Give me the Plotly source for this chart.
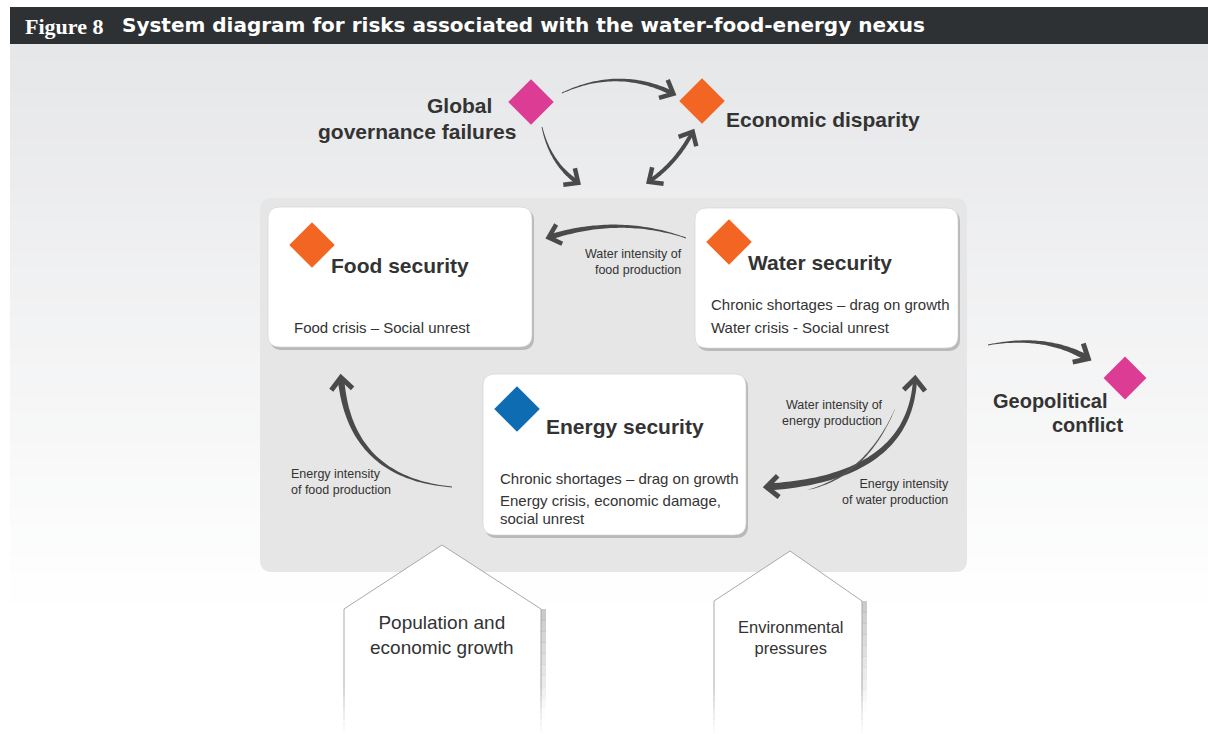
import math
import plotly.graph_objects as go

# ---------------- data ----------------
risk_names = ["Global governance failures", "Economic disparity", "Food security",
              "Water security", "Energy security", "Geopolitical conflict"]
risk_colors = ["#dd3c94", "#f26522", "#f26522", "#f26522", "#0e6cb2", "#dd3c94"]
diamond_x = [531, 702, 312, 729, 517, 1125]
diamond_y = [102, 101, 245, 242, 409, 378]
diamond_size = [35, 35, 35, 35, 35, 33]

box_names = ["Food security", "Water security", "Energy security"]
box_details = [
    ["Food crisis – Social unrest"],
    ["Chronic shortages – drag on growth", "Water crisis - Social unrest"],
    ["Chronic shortages – drag on growth", "Energy crisis, economic damage,", "social unrest"],
]
link_labels = ["Water intensity of<br>food production", "Water intensity of<br>energy production",
               "Energy intensity<br>of food production", "Energy intensity<br>of water production"]
driver_labels = ["Population and<br>economic growth", "Environmental<br>pressures"]
title_tag = "Figure 8"
title_text = "System diagram for risks associated with the water-food-energy nexus"

# ---------------- helpers ----------------
W, H = 1208, 734
TXT = "#333333"
ARROW = "#4a4a4a"
FONT = "Liberation Sans, Arial, sans-serif"
shapes = []
annotations = []


def rr_path(x0, y0, x1, y1, r):
    return (f"M{x0+r},{y0} L{x1-r},{y0} Q{x1},{y0} {x1},{y0+r} L{x1},{y1-r} "
            f"Q{x1},{y1} {x1-r},{y1} L{x0+r},{y1} Q{x0},{y1} {x0},{y1-r} "
            f"L{x0},{y0+r} Q{x0},{y0} {x0+r},{y0} Z")


def add_path(path, fill=None, line=None, lw=0, layer="below", opacity=1):
    d = dict(type="path", path=path, xref="x", yref="y", layer=layer, opacity=opacity,
             line=dict(width=lw, color=line if line else "rgba(0,0,0,0)"))
    if fill:
        d["fillcolor"] = fill
    shapes.append(d)


def add_rect(x0, y0, x1, y1, fill, layer="below"):
    shapes.append(dict(type="rect", x0=x0, y0=y0, x1=x1, y1=y1, xref="x", yref="y",
                       fillcolor=fill, line=dict(width=0), layer=layer))


def qpt(p0, c, p1, t):
    return ((1-t)**2*p0[0] + 2*(1-t)*t*c[0] + t*t*p1[0],
            (1-t)**2*p0[1] + 2*(1-t)*t*c[1] + t*t*p1[1])


def qder(p0, c, p1, t):
    dx = 2*(1-t)*(c[0]-p0[0]) + 2*t*(p1[0]-c[0])
    dy = 2*(1-t)*(c[1]-p0[1]) + 2*t*(p1[1]-c[1])
    L = math.hypot(dx, dy)
    return dx/L, dy/L


def body(p0, c, p1, wfun, color=ARROW, n=48):
    left, right = [], []
    for i in range(n+1):
        t = i/n
        x, y = qpt(p0, c, p1, t)
        dx, dy = qder(p0, c, p1, t)
        nx, ny = -dy, dx
        w = wfun(t)/2
        left.append((x+nx*w, y+ny*w))
        right.append((x-nx*w, y-ny*w))
    pts = left + right[::-1]
    path = "M" + " L".join(f"{x:.1f},{y:.1f}" for x, y in pts) + " Z"
    add_path(path, fill=color, layer="above")


def head(tip, d, L=15, ang=42, lw=4.5):
    dx, dy = d
    a = math.radians(ang)
    pts = []
    for s in (1, -1):
        ca, sa = math.cos(s*a), math.sin(s*a)
        rx, ry = dx*ca - dy*sa, dx*sa + dy*ca
        pts.append((tip[0]-rx*L, tip[1]-ry*L))
    path = f"M{pts[0][0]:.1f},{pts[0][1]:.1f} L{tip[0]:.1f},{tip[1]:.1f} L{pts[1][0]:.1f},{pts[1][1]:.1f}"
    add_path(path, line=ARROW, lw=lw, layer="above")


def arrow(p0, c, p1, w0, w1, both=False, L=15, lw=4.5):
    body(p0, c, p1, lambda t: w0 + (w1-w0)*t)
    d1 = qder(p0, c, p1, 1)
    head((p1[0]+d1[0]*1.5, p1[1]+d1[1]*1.5), d1, L=L, lw=lw)
    if both:
        d0 = qder(p0, c, p1, 0)
        d0 = (-d0[0], -d0[1])
        head((p0[0]+d0[0]*1.5, p0[1]+d0[1]*1.5), d0, L=L, lw=lw)


def text(x, y, s, size, bold=False, xanchor="left", color=TXT, family=FONT, align=None):
    if bold:
        s = f"<b>{s}</b>"
    annotations.append(dict(x=x, y=y, xref="x", yref="y", text=s, showarrow=False,
                            xanchor=xanchor, yanchor="middle", align=align or xanchor,
                            font=dict(size=size, color=color, family=family)))


# ---------------- background ----------------
add_rect(10, 44, W, H, "#ffffff")
top, bot = (230, 231, 233), (255, 255, 255)
y0, y1, steps = 44, 620, 36
for i in range(steps):
    t = i/(steps-1)
    col = tuple(round(top[k] + (bot[k]-top[k])*t) for k in range(3))
    ya = y0 + (y1-y0)*i/steps
    yb = y0 + (y1-y0)*(i+1)/steps + 0.6
    add_rect(10, ya, W, yb, f"rgb{col}")

# title bar
add_rect(10, 7, W, 44, "#2e3134")
text(23, 26, title_tag, 22, bold=True, color="#ffffff", family="Liberation Serif, DejaVu Serif, serif")
text(120, 25, title_text, 20, bold=True, color="#ffffff", family="DejaVu Sans, sans-serif")

# inner panel
add_path(rr_path(260, 198, 967, 572, 12), fill="#e6e6e6")

# boxes with shadows
boxes = [(268, 207, 532, 347), (695, 208, 958, 348), (483, 374, 746, 535)]
for (a, b, c, d) in boxes:
    add_path(rr_path(a+2, b+2, c+2, d+3, 12), fill="#b9b9b9")
    add_path(rr_path(a, b, c, d, 12), fill="#ffffff", line="#d0d0d0", lw=0.6)

# driver "house" shapes
houses = [(344, 541, 442, 545, 609), (714, 862, 790, 551, 601)]
for (xl, xr, xp, yp, ys) in houses:
    for k in range(10):
        ya = ys + k*11
        add_rect(xr, ya, xr+5, ya+11.5, f"rgba(150,150,150,{0.5*(1-k/10):.2f})")
    add_path(f"M{xl},{H} L{xl},{ys} L{xp},{yp} L{xr},{ys} L{xr},{H} Z", fill="#ffffff",
             line="#a9a9a9", lw=1)
    for k in range(8):
        ya = 690 + k*6
        add_rect(xl-2, ya, xr+7, ya+6.5, f"rgba(255,255,255,{(k+1)/8:.2f})")

# ---------------- arrows ----------------
arrow((562, 93), (618, 67), (672, 93), 0.8, 4.5)            # global -> economic
arrow((542, 127), (550, 163), (577, 182), 0.8, 4.5)         # global -> nexus
arrow((692, 133), (676, 163), (650, 181), 4, 4, both=True)  # economic <-> nexus
arrow((686, 238), (620, 215), (550, 237), 0.8, 5.5)         # water -> food
arrow((452, 487), (350, 478), (341, 379), 0.8, 6.5, L=16, lw=5)   # energy -> food
# energy <-> water (thick in the lower part, thinner near the top)
pe0, pc, pe1 = (768, 487), (909, 478), (915, 380)
body(pe0, pc, pe1, lambda t: 7 - 3*t)
d1 = qder(pe0, pc, pe1, 1)
head((pe1[0]+d1[0]*1.5, pe1[1]+d1[1]*1.5), d1, L=16, lw=5)
d0 = qder(pe0, pc, pe1, 0)
head((pe0[0]-d0[0]*1.5, pe0[1]-d0[1]*1.5), (-d0[0], -d0[1]), L=16, lw=5)
# thin companion stroke
body((807, 490), (866, 476), (895, 409), lambda t: 0.3 + 1.6*math.sin(math.pi*t)*(1.2-0.6*t),
     color="#555555")
arrow((988, 345), (1045, 334), (1087, 358), 0.8, 6, L=16, lw=5)          # -> geopolitical

# ---------------- text ----------------
text(494, 105, risk_names[0].split(" ", 1)[0], 21, bold=True, xanchor="right")
text(518, 131, risk_names[0].split(" ", 1)[1], 21, bold=True, xanchor="right")
text(724, 119, risk_names[1], 21, bold=True)
text(329, 265, box_names[0], 21, bold=True)
text(746, 262, box_names[1], 21, bold=True)
text(544, 426, box_names[2], 21, bold=True)
text(1109, 401, risk_names[5].split(" ")[0], 20, bold=True, xanchor="right")
text(1125, 425, risk_names[5].split(" ")[1], 20, bold=True, xanchor="right")

detail_pos = [[(292, 327)], [(709, 304), (709, 327)], [(498, 478), (498, 500), (498, 518)]]
for lines, pos in zip(box_details, detail_pos):
    for s, (x, y) in zip(lines, pos):
        text(x, y, s, 15)

text(684, 262, link_labels[0], 12.5, xanchor="right")
text(885, 413, link_labels[1], 12.5, xanchor="right")
text(289, 482, link_labels[2], 12.5, xanchor="left")
text(951, 492, link_labels[3], 12.5, xanchor="right")

text(442, 635, driver_labels[0], 19, xanchor="center")
text(790, 637, driver_labels[1], 16.5, xanchor="center")

# ---------------- figure ----------------
fig = go.Figure()
fig.add_trace(go.Scatter(
    x=diamond_x, y=diamond_y, mode="markers", hoverinfo="text", hovertext=risk_names,
    opacity=1,
    marker=dict(symbol="diamond", size=diamond_size, color=risk_colors, opacity=1,
                line=dict(width=0)),
))
fig.update_layout(
    width=W, height=H, margin=dict(l=0, r=0, t=0, b=0),
    paper_bgcolor="#ffffff", plot_bgcolor="rgba(0,0,0,0)", showlegend=False,
    xaxis=dict(range=[0, W], visible=False, fixedrange=True),
    yaxis=dict(range=[H, 0], visible=False, fixedrange=True),
    shapes=shapes, annotations=annotations, hovermode=False,
)
fig.write_html("out.html", config={"displayModeBar": False},
               post_script="document.body.style.margin='0';document.body.style.overflow='hidden';")
